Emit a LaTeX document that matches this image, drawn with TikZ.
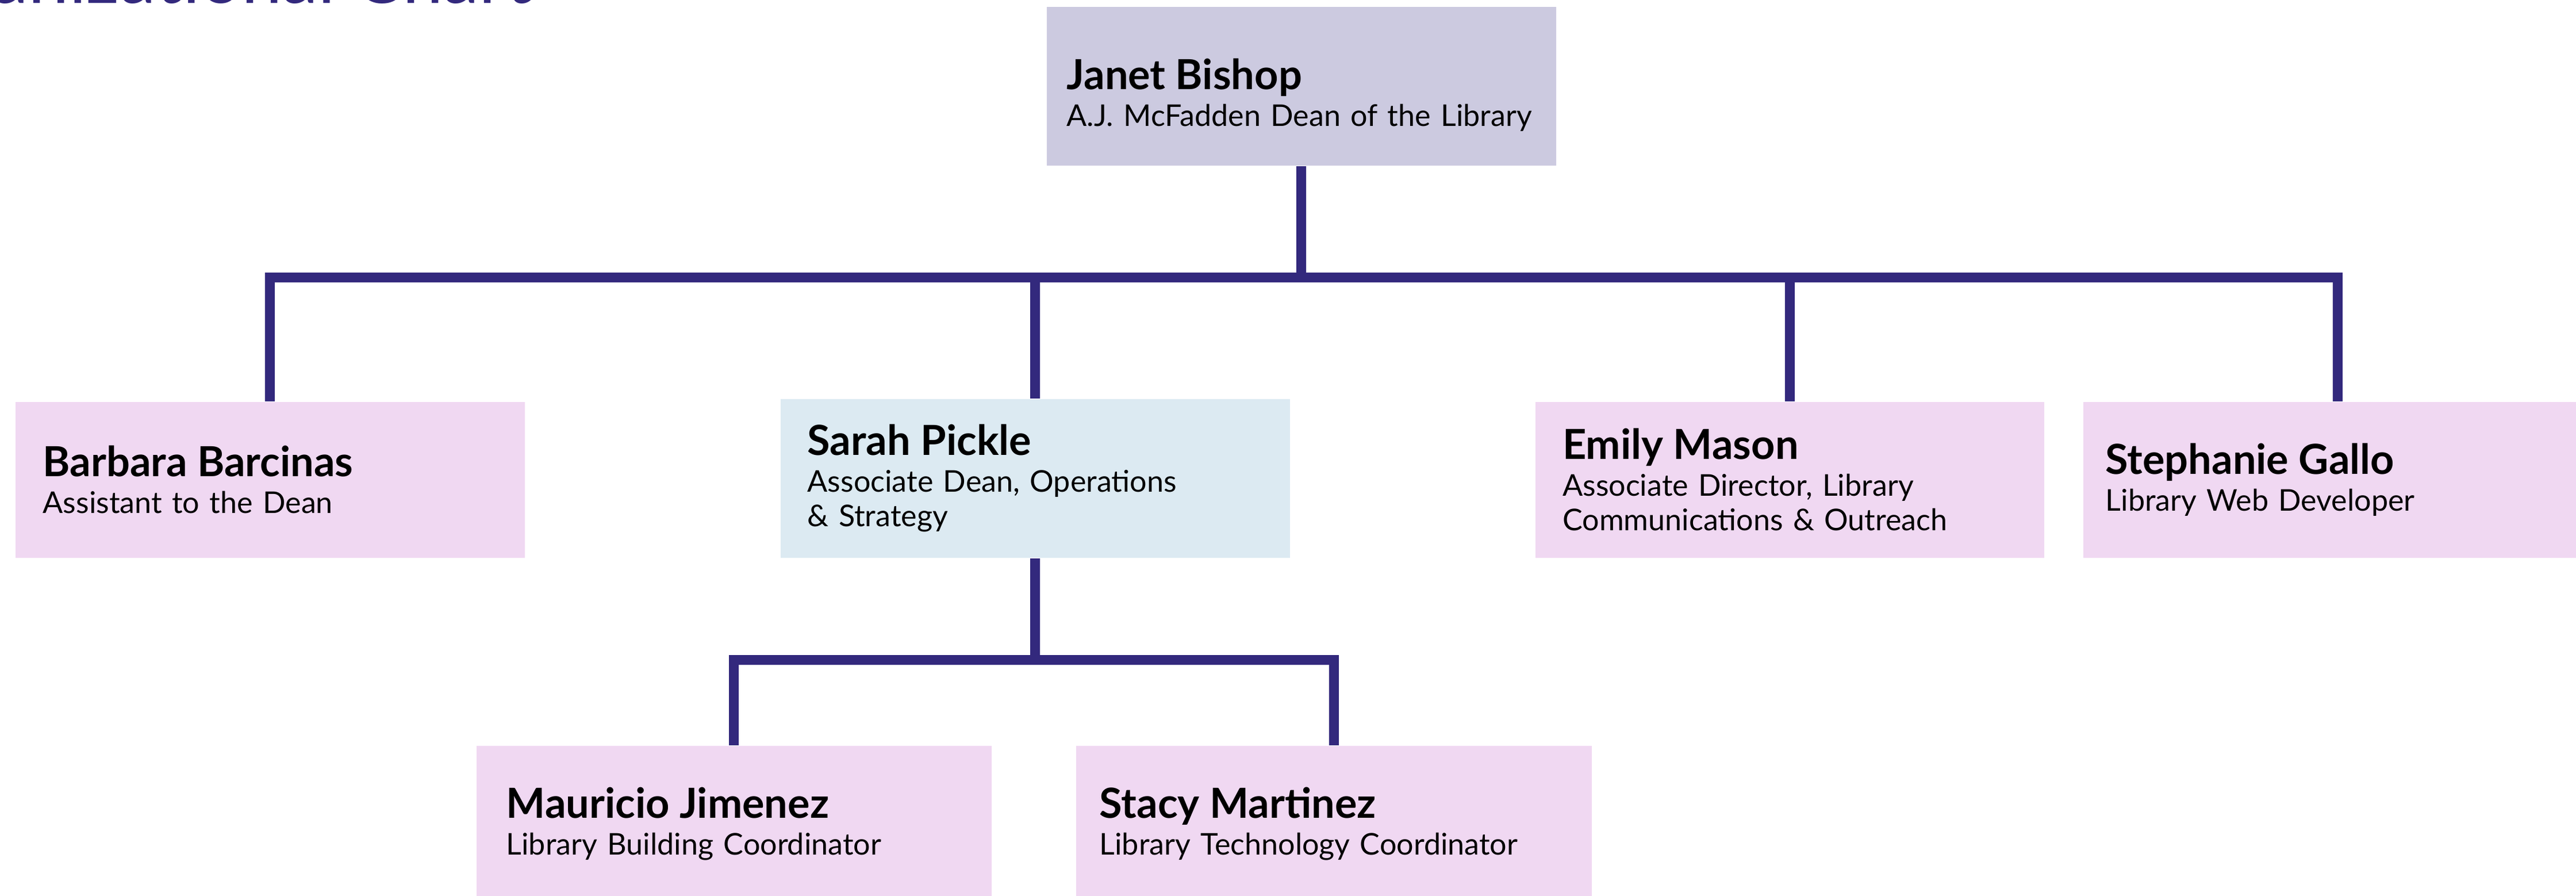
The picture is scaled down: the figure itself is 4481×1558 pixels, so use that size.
\documentclass[tikz,border=0pt]{standalone}
\usepackage{fontspec}
\setmainfont{Lato}
\definecolor{chartline}{RGB}{51,41,125}
\definecolor{deanfill}{RGB}{204,202,224}
\definecolor{stafffill}{RGB}{240,216,242}
\definecolor{opsfill}{RGB}{220,234,242}
\newcommand{\person}[2]{{\fontsize{20.5}{20}\selectfont\bfseries #1}\\[0.04cm]#2}
\tikzset{
 box/.style={fill=stafffill, anchor=north west, inner sep=0pt, align=left,
   minimum width=8.86cm, minimum height=2.71cm, text width=7.9cm,
   font=\fontsize{14.8}{17.07}\selectfont},
 link/.style={draw=chartline, line width=0.17cm, line join=miter}
}
\begin{document}
\begin{tikzpicture}[x=0.01cm, y=-0.01cm]

 \useasboundingbox (0,0) rectangle (4481,1558);
 \clip (0,0) rectangle (4481,1558);

 \node[anchor=base east, inner sep=0pt, text=chartline, font=\fontsize{36}{36}\selectfont] (OC) at (926,6) {Organizational Chart};

 \node[box, fill=deanfill, minimum height=2.76cm, text width=8.16cm] (JB) at (1820,11) {\person{\rule{0pt}{0.84cm}Janet Bishop}{A.J. McFadden Dean of the Library}};

 \node[box] (BB) at (26,698) {\person{Barbara Barcinas}{Assistant to the Dean}};
 \node[box, fill=opsfill, minimum height=2.76cm, text width=7.92cm] (SP) at (1357,693) {\person{Sarah Pickle}{Associate Dean, Operations\\\& Strategy}};
 \node[box, minimum width=8.85cm] (EM) at (2670,698) {\person{Emily Mason}{Associate Director, Library\\Communications \& Outreach}};
 \node[box, minimum width=8.84cm, text width=8.06cm] (SG) at (3623,698) {\person{Stephanie Gallo}{Library Web Developer}};

 \node[box, minimum width=8.96cm, text width=7.92cm] (MJ) at (828,1296) {\person{Mauricio Jimenez}{Library Building Coordinator}};
 \node[box, minimum width=8.97cm, text width=8.15cm] (SM) at (1871,1296) {\person{Stacy Martinez}{Library Technology Coordinator}};

 \path (JB.south) ++(0,194) coordinate (HT);
 \path (SP.south) ++(0,177) coordinate (HS);

 \draw[link] (JB.south) -- (HT);
 \draw[link] (BB.north) |- (HT);
 \draw[link] (SG.north) |- (HT);
 \draw[link] (SP.north) -- (SP.north |- HT);
 \draw[link] (EM.north) -- (EM.north |- HT);

 \draw[link] (SP.south) -- (HS);
 \draw[link] (MJ.north) |- (HS);
 \draw[link] (SM.north) |- (HS);

\end{tikzpicture}
\end{document}
